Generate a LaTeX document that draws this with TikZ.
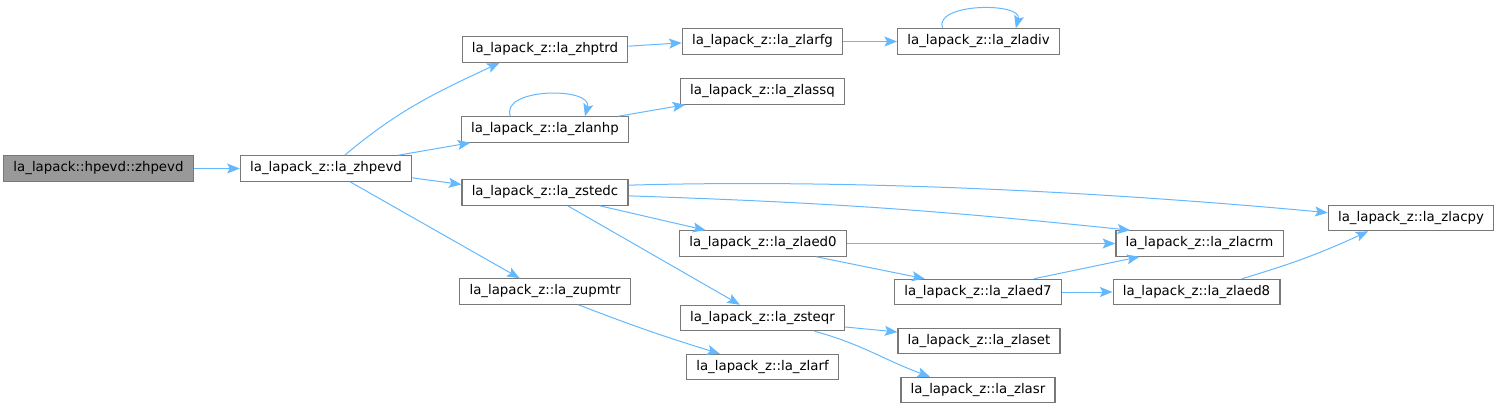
\documentclass[tikz,border=0pt]{standalone}
\usepackage{fontspec}
\setmainfont{DejaVu Sans}
\usetikzlibrary{arrows.meta}
\definecolor{edgeblue}{RGB}{99,184,255}
\definecolor{boxgray}{RGB}{120,120,120}
\definecolor{rootgray}{RGB}{153,153,153}
\begin{document}
\begin{tikzpicture}[x=0.75pt, y=0.75pt,
    fn/.style={rectangle, draw=boxgray, fill=white, line width=0.9pt, font=\fontsize{10}{12}\selectfont,
               minimum height=19pt, inner xsep=7.3pt, inner ysep=0pt},
    call/.style={draw=edgeblue, line width=0.75pt, -{Stealth[length=9.5pt, width=7.5pt, inset=2pt]}}]
    \useasboundingbox (0,0) rectangle (1500,-411);
    % functions
    \node[fn, fill=rootgray] (hpevd) at (98.5,-168.5) {la\_lapack::hpevd::zhpevd};
    \node[fn] (zhpevd) at (326,-168.5) {la\_lapack\_z::la\_zhpevd};
    \node[fn] (zhptrd) at (545,-49.5) {la\_lapack\_z::la\_zhptrd};
    \node[fn] (zlanhp) at (545,-129.5) {la\_lapack\_z::la\_zlanhp};
    \node[fn] (zstedc) at (545,-192.5) {la\_lapack\_z::la\_zstedc};
    \node[fn] (zupmtr) at (545,-291.5) {la\_lapack\_z::la\_zupmtr};
    \node[fn] (zlarfg) at (762.5,-41.5) {la\_lapack\_z::la\_zlarfg};
    \node[fn] (zlassq) at (762.5,-91.5) {la\_lapack\_z::la\_zlassq};
    \node[fn] (zlaed0) at (763,-243.5) {la\_lapack\_z::la\_zlaed0};
    \node[fn] (zsteqr) at (762.5,-318) {la\_lapack\_z::la\_zsteqr};
    \node[fn] (zlarf) at (762.5,-367) {la\_lapack\_z::la\_zlarf};
    \node[fn] (zladiv) at (978.5,-41.5) {la\_lapack\_z::la\_zladiv};
    \node[fn] (zlaed7) at (978,-292) {la\_lapack\_z::la\_zlaed7};
    \node[fn] (zlaset) at (979,-341) {la\_lapack\_z::la\_zlaset};
    \node[fn] (zlasr) at (978,-390) {la\_lapack\_z::la\_zlasr};
    \node[fn] (zlacrm) at (1199.5,-243.5) {la\_lapack\_z::la\_zlacrm};
    \node[fn] (zlaed8) at (1196.5,-292) {la\_lapack\_z::la\_zlaed8};
    \node[fn] (zlacpy) at (1411,-218) {la\_lapack\_z::la\_zlacpy};
    % calls
    \draw[call] (hpevd.east) -- (zhpevd.west);
    \draw[call] ([xshift=14pt]zhpevd.north) to[out=40, in=205] ([xshift=-34pt]zhptrd.south);
    \draw[call] ([xshift=54pt]zhpevd.north) -- ([xshift=-56pt]zlanhp.south);
    \draw[call] ([yshift=-7pt]zhpevd.east) -- ([yshift=6pt]zstedc.west);
    \draw[call] ([xshift=18pt]zhpevd.south) -- ([xshift=-19pt]zupmtr.north);
    \draw[call] ([yshift=2.5pt]zhptrd.east) -- ([yshift=-1pt]zlarfg.west);
    \draw[call] (zlarfg.east) -- (zladiv.west);
    \draw[call] ([xshift=-27pt]zladiv.north) to[out=110, in=75, looseness=0.95] ([xshift=28pt]zladiv.north);
    \draw[call] ([xshift=-26pt]zlanhp.north) to[out=110, in=75, looseness=1.05] ([xshift=30pt]zlanhp.north);
    \draw[call] ([xshift=55pt]zlanhp.north) -- ([xshift=-58pt]zlassq.south);
    \draw[call] ([yshift=5.5pt]zstedc.east) .. controls (880,-178) and (1150,-196) .. ([yshift=4pt]zlacpy.west);
    \draw[call] ([yshift=-2.5pt]zstedc.east) to[bend left=2] ([xshift=-52pt]zlacrm.north);
    \draw[call] ([xshift=41pt]zstedc.south) -- ([xshift=-43pt]zlaed0.north);
    \draw[call] ([xshift=17pt]zstedc.south) -- ([xshift=-17pt]zsteqr.north);
    \draw[call] (zlaed0.east) -- (zlacrm.west);
    \draw[call] ([xshift=40pt]zlaed0.south) -- ([xshift=-40pt]zlaed7.north);
    \draw[call] ([xshift=42pt]zlaed7.north) -- ([xshift=-45pt]zlacrm.south);
    \draw[call] (zlaed7.east) -- (zlaed8.west);
    \draw[call] ([xshift=34pt]zlaed8.north) to[bend right=4] ([xshift=-32pt]zlacpy.south);
    \draw[call] ([xshift=25pt]zupmtr.south) to[bend right=2] ([xshift=-32pt]zlarf.north);
    \draw[call] ([yshift=-6.75pt]zsteqr.east) -- ([yshift=6.75pt]zlaset.west);
    \draw[call] ([xshift=39pt]zsteqr.south) to[out=-15, in=160] ([xshift=-36pt]zlasr.north);
\end{tikzpicture}
\end{document}
